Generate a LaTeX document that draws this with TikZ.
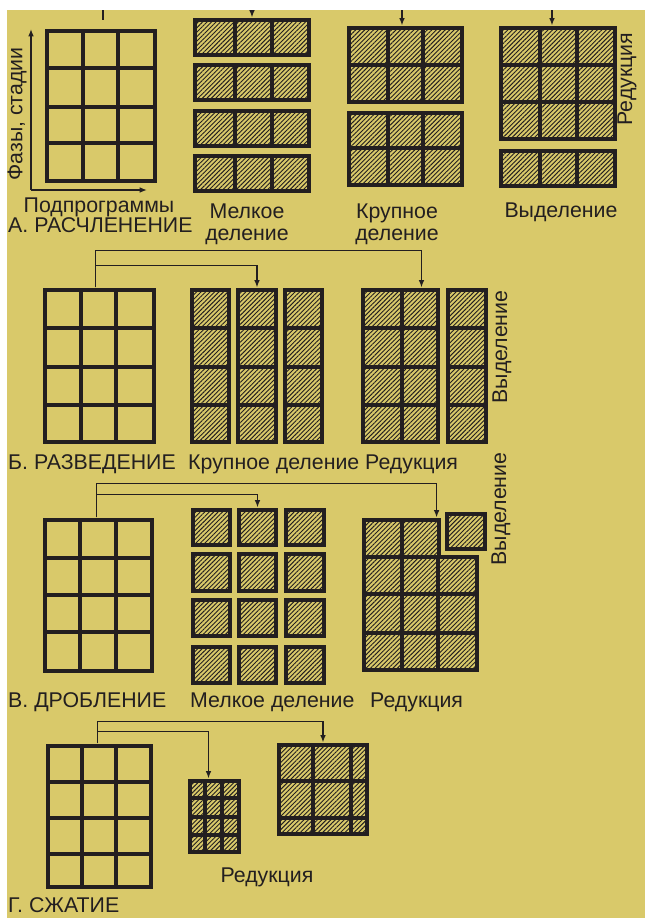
\documentclass[tikz,border=0pt]{standalone}
\usepackage{fontspec}
\setmainfont{Liberation Sans}
\usetikzlibrary{arrows.meta,patterns.meta,fit,calc}

\definecolor{paper}{RGB}{217,201,106}
\definecolor{ink}{RGB}{35,31,32}

\begin{document}
\begin{tikzpicture}[
    x=0.03cm,
    y=-0.03cm,
    >={Latex[length=2.2mm,width=1.7mm]},
    gridline/.style={line width=4pt, ink},
    plaincell/.style={},
    hatchcell/.style={pattern={Lines[angle=45,distance=2.7pt,line width=0.8pt]},
                      pattern color=ink},
    link/.style={line width=1.1pt, ink},
    axis/.style={->, line width=1.1pt, ink},
    lbl/.style={font=\fontsize{18.2}{20}\selectfont, text=ink, inner sep=0pt},
]
\newcommand{\cellblock}[8]{%
  \path[#8] (#2,#3) rectangle (#4,#5);
  \foreach \cx in {#6} {\draw[gridline] (\cx,#3) -- (\cx,#5);}
  \foreach \cy in {#7} {\draw[gridline] (#2,\cy) -- (#4,\cy);}
  \draw[gridline] (#2,#3) rectangle (#4,#5);
  \node[fit={(#2,#3) (#4,#5)}, inner sep=2pt] (#1) {};
}
\useasboundingbox (0,0) rectangle (645,918);
\fill[white] (0,0) rectangle (645,918);
\fill[paper] (7,10) rectangle (645,918);

% A. splitting
\cellblock{a1}{47}{31}{155}{181}{83,118}{68,107,143}{plaincell}
\foreach \ya/\yb/\k in {20/55/1,65/100/2,111/146/3,156/191/4}
  {\cellblock{a2s\k}{195}{\ya}{309}{\yb}{235,272}{\ya}{hatchcell}}
\cellblock{a3b1}{349}{28}{462}{102}{388,423}{65}{hatchcell}
\cellblock{a3b2}{349}{113}{462}{185}{388,423}{148}{hatchcell}
\cellblock{a4b}{501}{28}{615}{139}{540,577}{65,102}{hatchcell}
\cellblock{a4s}{501}{151}{615}{186}{540,577}{151}{hatchcell}

\coordinate (origin) at (31,190);
\coordinate (yend) at (31,29);
\coordinate (xend) at (147,190);
\draw[axis] (origin) -- (yend);
\draw[axis] (origin) -- (xend);

\coordinate (astub) at (103,10);
\coordinate (amel) at (252,10);
\coordinate (akru) at (402,10);
\coordinate (avyd) at (552,10);
\draw[link] (astub) -- ++(0,10);
\draw[link,->] (amel) -- (amel |- a2s1.north);
\draw[link,->] (akru) -- (akru |- a3b1.north);
\draw[link,->] (avyd) -- (avyd |- a4b.north);

\node[lbl, rotate=90] (phases) at (17,114) {Фазы, стадии};
\node[lbl, anchor=base] (subprog) at (99,212) {Подпрограммы};
\node[lbl, anchor=base west] (ta) at (8,232) {А. РАСЧЛЕНЕНИЕ};
\node[lbl, anchor=base] (amel1) at (247,218) {Мелкое};
\node[lbl, anchor=base] (amel2) at (247,240) {деление};
\node[lbl, anchor=base] (akru1) at (397,218) {Крупное};
\node[lbl, anchor=base] (akru2) at (397,240) {деление};
\node[lbl, anchor=base] (avyd1) at (561,217) {Выделение};
\node[lbl, rotate=90] (ared) at (627,79) {Редукция};

% B. separation
\cellblock{b1}{45}{290}{154}{442}{81,116}{328,367,405}{plaincell}
\cellblock{b2l}{192}{290}{229}{442}{192}{328,367,405}{hatchcell}
\cellblock{b2m}{238}{290}{276}{442}{238}{328,367,405}{hatchcell}
\cellblock{b2r}{285}{290}{322}{442}{285}{328,367,405}{hatchcell}
\cellblock{b3}{363}{290}{438}{442}{402}{328,367,405}{hatchcell}
\cellblock{b4}{448}{290}{486}{442}{448}{328,367,405}{hatchcell}

\draw[link,->] ($(b1.north)+(-4,0)$) -- ++(0,-37) -| ($(b3.north)+(21,0)$);
\draw[link,->] ($(b1.north)+(-4,0)$) -- ++(0,-22) -| (b2m.north);

\node[lbl, anchor=base west] (tb) at (8,469) {Б. РАЗВЕДЕНИЕ};
\node[lbl, anchor=base west] (bkru) at (188,469) {Крупное деление};
\node[lbl, anchor=base west] (bred) at (365,469) {Редукция};
\node[lbl, rotate=90] (bvyd) at (502,347) {Выделение};

% C. crushing
\cellblock{v1}{45}{520}{152}{671}{80,116}{558,595,632}{plaincell}
\foreach \xa/\xb/\c in {193/230/1,239/276/2,286/324/3}
  \foreach \ya/\yb/\r in {510/545/1,554/591/2,600/636/3,647/683/4}
    {\cellblock{vm\c\r}{\xa}{\ya}{\xb}{\yb}{\xa}{\ya}{hatchcell}}
\cellblock{rvt}{364}{520}{439}{557}{402}{520}{hatchcell}
\cellblock{rvb}{364}{557}{477}{670}{402,438}{594,633}{hatchcell}
\cellblock{rvs}{447}{514}{485}{549}{447}{514}{hatchcell}

\draw[link,->] ($(v1.north)+(-2,0)$) -- ++(0,-34) -| ($(rvt.north east)+(-5,0)$);
\draw[link,->] ($(v1.north)+(-2,0)$) -- ++(0,-23) -| (vm21.north);

\node[lbl, anchor=base west] (tv) at (8,707) {В. ДРОБЛЕНИЕ};
\node[lbl, anchor=base west] (vmel) at (190,707) {Мелкое деление};
\node[lbl, anchor=base west] (vred) at (370,707) {Редукция};
\node[lbl, rotate=90] (vvyd) at (501,509) {Выделение};

% D. compression
\cellblock{g1}{48}{746}{151}{887}{82,116}{782,818,854}{plaincell}
\cellblock{g2}{190}{781}{239}{852}{205,222}{798,817,835}{hatchcell}
\cellblock{g3}{279}{745}{367}{834}{313,351}{781,818}{hatchcell}

\draw[link,->] ($(g1.north)+(-2,0)$) -- ++(0,-22) -| (g3.north);
\draw[link,->] ($(g1.north)+(-2,0)$) -- ++(0,-12) -| ($(g2.north)+(-6,0)$);

\node[lbl, anchor=base] (gred) at (267,882) {Редукция};
\node[lbl, anchor=base west] (tg) at (8,912) {Г. СЖАТИЕ};
\end{tikzpicture}
\end{document}
